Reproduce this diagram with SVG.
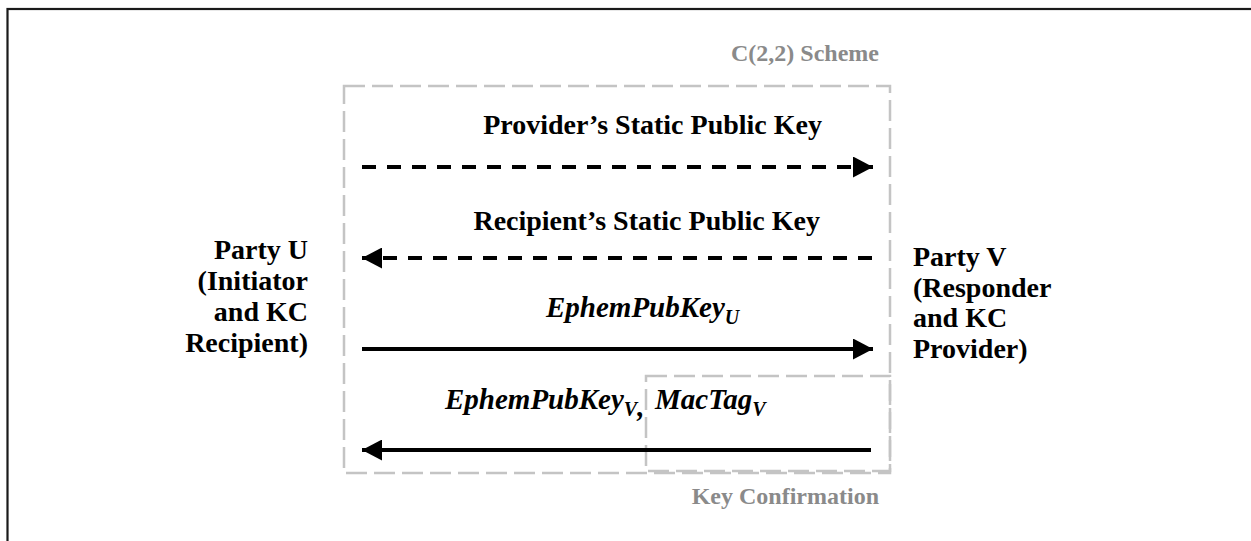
<svg xmlns="http://www.w3.org/2000/svg" width="1251" height="541" viewBox="0 0 1251 541">
<style>
.t{font-family:"Liberation Serif","Times New Roman",serif;font-weight:bold;font-size:28px;fill:#000}
.i{font-style:italic;font-size:29px}
.g{fill:#8a8a8a;font-size:24px}
.box{fill:none;stroke:#c4c4c4;stroke-width:2.5;stroke-dasharray:21 7}
.ln{stroke:#000;stroke-width:4;fill:none}
.ds{stroke-dasharray:14 11}
</style>
<defs>
<marker id="ah" viewBox="0 0 20 21" refX="20" refY="10.5" markerUnits="userSpaceOnUse" markerWidth="20" markerHeight="21" orient="auto">
<path d="M0,0 L20,10.5 L0,21 Z" fill="#000"/>
</marker>
</defs>
<rect x="0" y="0" width="1251" height="541" fill="#fff"/>
<rect x="7.5" y="9" width="1260" height="560" fill="none" stroke="#1a1a1a" stroke-width="2.2"/>
<g id="scheme">
<rect class="box" x="344" y="86" width="546" height="387"/>
<text class="t g" x="879" y="61" text-anchor="end">C(2,2) Scheme</text>
</g>
<g id="kc">
<rect class="box" x="646" y="376" width="244" height="95"/>
<text class="t g" x="879" y="504" text-anchor="end">Key Confirmation</text>
</g>
<g id="partyU">
<text class="t" text-anchor="end"><tspan x="308" y="259">Party U</tspan><tspan x="308" y="290">(Initiator</tspan><tspan x="308" y="321">and KC</tspan><tspan x="308" y="352">Recipient)</tspan></text>
</g>
<g id="partyV">
<text class="t"><tspan x="913" y="266">Party V</tspan><tspan x="913" y="297">(Responder</tspan><tspan x="913" y="327">and KC</tspan><tspan x="913" y="358">Provider)</tspan></text>
</g>
<g id="connectors">
<line class="ln ds" x1="362" y1="167" x2="873" y2="167" marker-end="url(#ah)"/>
<line class="ln ds" x1="872" y1="258" x2="362" y2="258" marker-end="url(#ah)"/>
<line class="ln" x1="362" y1="349" x2="873" y2="349" marker-end="url(#ah)"/>
<line class="ln" x1="871" y1="450" x2="362" y2="450" marker-end="url(#ah)"/>
</g>
<g id="labels">
<text class="t" x="822" y="134" text-anchor="end">Provider’s Static Public Key</text>
<text class="t" x="820" y="230" text-anchor="end">Recipient’s Static Public Key</text>
<text class="t i" x="546" y="317">EphemPubKey<tspan font-size="20" dy="7">U</tspan></text>
<text class="t i" x="445" y="409">EphemPubKey<tspan font-size="20" dy="7">V</tspan>,</text>
<text class="t i" x="655" y="409">MacTag<tspan font-size="20" dy="7">V</tspan></text>
</g>
</svg>
